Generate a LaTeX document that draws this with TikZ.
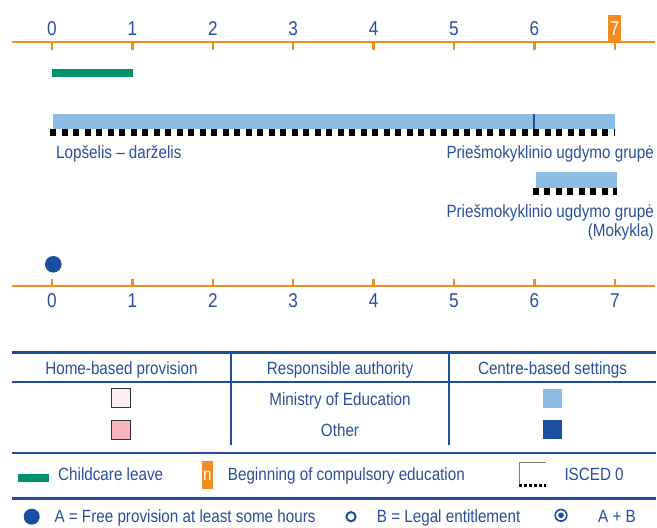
\documentclass[tikz,border=0pt]{standalone}
\usepackage{fontspec}
\setmainfont{Liberation Sans}[FakeStretch=0.86]
\usetikzlibrary{positioning}
\definecolor{axisorange}{HTML}{F28C1E}
\definecolor{textblue}{HTML}{2A4E9C}
\definecolor{rule}{HTML}{1F4E9E}
\definecolor{leavegreen}{HTML}{00936A}
\definecolor{lightblue}{HTML}{8DBDE5}
\definecolor{darkblue}{HTML}{1A4E9F}
\definecolor{palepink}{HTML}{FDEEF2}
\definecolor{pink}{HTML}{F9B5BE}

\begin{document}
\begin{tikzpicture}[
  x=1pt,y=-1pt,
  lbl/.style={font=\fontsize{17.7}{20}\selectfont,text=textblue,inner sep=0pt,anchor=base},
  num/.style={lbl,font=\fontsize{20}{22}\selectfont},
  axis/.style={draw=axisorange,line width=2.5pt},
  tablerule/.style={draw=rule,line width=2.5pt},
  iscedline/.style={draw=black,line width=7pt,dash pattern=on 6pt off 5.5pt},
  swatch/.style={draw=black!80,line width=0.8pt,minimum size=19pt,inner sep=0pt}
]
\useasboundingbox (0,0) rectangle (657,528);
% top and bottom age axes
\draw[axis] (12,42) -- (655,42);
\draw[axis] (12,286) -- (655,286);
\foreach \n in {0,...,7} {
  \draw[axis] ({52+80.4*\n},42) -- ++(0,7.5);
  \draw[axis] ({52+80.4*\n},286) -- ++(0,-7.5);
  \node[num] (b\n) at ({52+80.4*\n},307.5) {\n};
}
\foreach \n in {0,...,6}
  \node[num] (a\n) at ({52+80.4*\n},35.7) {\n};
\fill[axisorange] (608,15) rectangle (621,41);
\node[num,text=white] (a7) at (614.7,35.7) {7};
% childcare leave
\fill[leavegreen] (52,69) rectangle (132.5,76.7);
% Lopselis - darzelis
\fill[lightblue] (53,114) rectangle (614.7,128.7);
\draw[darkblue,line width=2pt] (533.7,114) -- (533.7,128.7);
\draw[iscedline] (50,132.5) -- (614.7,132.5);
\node[lbl,anchor=base west] (lopselis) at (56,158.3) {Lopšelis – darželis};
\node[lbl,anchor=base east] (pug) at (654,158.3) {Priešmokyklinio ugdymo grupė};
% Mokykla
\fill[lightblue] (535.7,172) rectangle (616.7,187.7);
\draw[iscedline] (532.7,191.3) -- (616.7,191.3);
\node[lbl,anchor=base east] (pugm) at (654,217.3) {Priešmokyklinio ugdymo grupė};
\node[lbl,anchor=base east] (mokykla) at (654,236.7) {(Mokykla)};
\fill[darkblue] (53.3,264.3) circle (8.3);
% table of authorities
\draw[tablerule] (12,352.3) -- (656,352.3);
\draw[tablerule] (12,382) -- (656,382);
\draw[tablerule] (231,352.3) -- (231,445);
\draw[tablerule] (449,352.3) -- (449,445);
\draw[tablerule] (12,453) -- (656,453);
\draw[tablerule] (12,498.3) -- (656,498.3);
\node[lbl] (home) at (121.5,374.3) {Home-based provision};
\node[lbl] (authority) at (340,374.3) {Responsible authority};
\node[lbl] (centre) at (552.5,374.3) {Centre-based settings};
\node[lbl] (ministry) at (340,405) {Ministry of Education};
\node[lbl] (other) at (340,436) {Other};
\node[swatch,fill=palepink] (homemin) at (120.5,398.3) {};
\node[swatch,fill=pink] (homeoth) at (120.5,429.7) {};
\node[swatch,draw=none,fill=lightblue] (centremin) at (552.2,398.3) {};
\node[swatch,draw=none,fill=darkblue] (centreoth) at (552.2,429.7) {};
% legend
\fill[leavegreen] (18,474) rectangle (49,482);
\node[lbl,anchor=base west] (leave) at (58,480) {Childcare leave};
\fill[axisorange] (202,461) rectangle (212.7,489.3);
\node[lbl,text=white] (nbox) at (207.3,480) {n};
\node[lbl,anchor=base west] (compulsory) at (227.7,480) {Beginning of compulsory education};
\draw[black!50,line width=0.8pt] (519.4,486) -- (519.4,462) -- (546,462);
\draw[black,line width=3pt,dash pattern=on 3pt off 2pt] (519,485) -- (546,485);
\node[lbl,anchor=base west] (isced) at (564.3,480) {ISCED 0};
\fill[darkblue] (31.7,516.7) circle (8);
\node[lbl,anchor=base west] (free) at (54.3,522.3) {A = Free provision at least some hours};
\draw[darkblue,line width=2pt] (351,516.7) circle (4.6);
\node[lbl,anchor=base west] (legal) at (376.7,522.3) {B = Legal entitlement};
\draw[darkblue,line width=1.6pt] (561,515.3) circle (5.8);
\fill[darkblue] (561,515.3) circle (2.8);
\node[lbl,anchor=base west] (ab) at (598,522.3) {A + B};
\end{tikzpicture}
\end{document}
